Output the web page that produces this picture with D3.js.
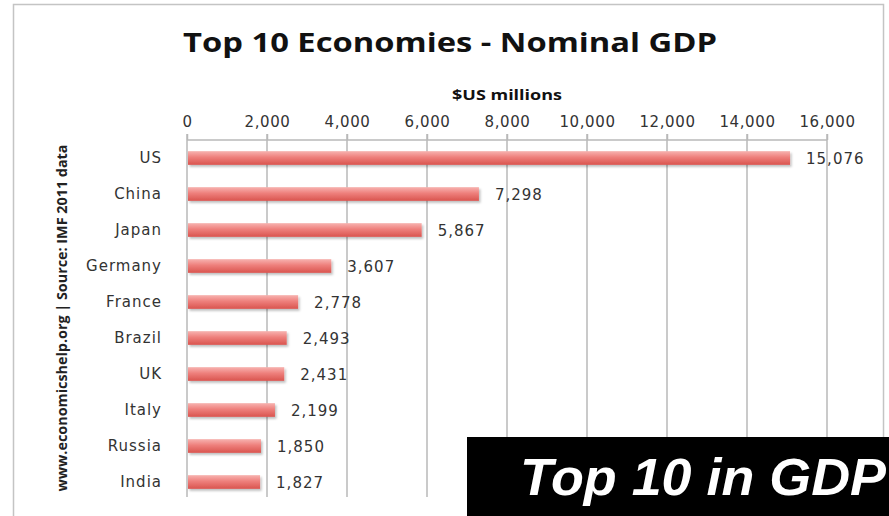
<!DOCTYPE html>
<html><head><meta charset="utf-8">
<script src="https://cdn.jsdelivr.net/npm/d3@7"></script>
<style>
html,body{margin:0;padding:0;background:#fff;}
svg{display:block;}
</style></head>
<body>
<svg id="chart" width="889" height="516"></svg>
<script>
const countries = ["US","China","Japan","Germany","France","Brazil","UK","Italy","Russia","India"];
const gdpValues = [15076,7298,5867,3607,2778,2493,2431,2199,1850,1827];
const tickValues = [0,2000,4000,6000,8000,10000,12000,14000,16000];
const titleText = "Top 10 Economies - Nominal GDP";
const axisTitle = "$US millions";
const sourceText = "www.economicshelp.org | Source: IMF 2011 data";
const bannerText = "Top 10 in GDP";

const svg = d3.select("#chart");
const fmt = d3.format(",");

const defs = svg.append("defs");
const grad = defs.append("linearGradient").attr("id","barGrad").attr("x1",0).attr("y1",0).attr("x2",0).attr("y2",1);
grad.append("stop").attr("offset","0%").attr("stop-color","#f7b3b0");
grad.append("stop").attr("offset","45%").attr("stop-color","#ee7f7b");
grad.append("stop").attr("offset","100%").attr("stop-color","#d9544f");
const sh = defs.append("filter").attr("id","shadow").attr("x","-5%").attr("y","-30%").attr("width","115%").attr("height","180%");
sh.append("feDropShadow").attr("dx",1.5).attr("dy",2).attr("stdDeviation",1.2).attr("flood-color","#000").attr("flood-opacity",0.25);

// outer border
svg.append("rect").attr("x",13.5).attr("y",4.5).attr("width",870).attr("height",530)
  .attr("fill","none").attr("stroke","#c4c4c4").attr("stroke-width",1.5);

const x = d3.scaleLinear().domain([0,16000]).range([187,827]);
const y = d3.scaleBand().domain(countries).range([140,500]).paddingInner(0.62).paddingOuter(0.31);

// gridlines
svg.append("g").selectAll("line").data(tickValues).join("line")
  .attr("x1",d=>x(d)).attr("x2",d=>x(d)).attr("y1",134).attr("y2",497)
  .attr("stroke","#b8b8b8").attr("stroke-width",1.5);

// top axis
const axis = d3.axisTop(x).tickValues(tickValues).tickFormat(fmt).tickSize(6).tickPadding(5);
const ag = svg.append("g").attr("transform","translate(0,140)").call(axis);
ag.select(".domain").attr("stroke","#b8b8b8").attr("stroke-width",1.5).attr("d","M187,0H827");
ag.selectAll(".tick line").attr("stroke","#b8b8b8").attr("stroke-width",1.5);
ag.selectAll(".tick text").attr("fill","#333").attr("font-family","DejaVu Sans").attr("font-size",15)
  .attr("letter-spacing","0.6px").attr("y",-13);

// bars
svg.append("g").selectAll("rect").data(countries).join("rect")
  .attr("x",x(0)+1).attr("y",d=>y(d))
  .attr("width",(d,i)=>x(gdpValues[i])-x(0)-1).attr("height",y.bandwidth())
  .attr("fill","url(#barGrad)").attr("filter","url(#shadow)");

// category labels
svg.append("g").selectAll("text").data(countries).join("text")
  .attr("x",162).attr("y",d=>y(d)+y.bandwidth()/2).attr("dy","0.35em")
  .attr("text-anchor","end").attr("fill","#333").attr("font-family","DejaVu Sans")
  .attr("font-size",15).attr("letter-spacing","1px").text(d=>d);

// value labels
svg.append("g").selectAll("text").data(countries).join("text")
  .attr("x",(d,i)=>x(gdpValues[i])+16).attr("y",d=>y(d)+y.bandwidth()/2).attr("dy","0.4em")
  .attr("fill","#333").attr("font-family","DejaVu Sans")
  .attr("font-size",15).attr("letter-spacing","1px").text((d,i)=>fmt(gdpValues[i]));

// title
svg.append("text").attr("x",450).attr("y",52).attr("text-anchor","middle")
  .attr("font-family","Open Sans").attr("font-weight","bold").attr("font-size",27)
  .attr("fill","#111").attr("textLength",534).attr("lengthAdjust","spacingAndGlyphs").text(titleText);

// axis title
svg.append("text").attr("x",507).attr("y",100).attr("text-anchor","middle")
  .attr("font-family","Open Sans").attr("font-weight","bold").attr("font-size",15)
  .attr("fill","#111").attr("textLength",110).attr("lengthAdjust","spacingAndGlyphs").text(axisTitle);

// vertical source text
svg.append("text").attr("transform","translate(67,318) rotate(-90)").attr("text-anchor","middle")
  .attr("font-family","Open Sans").attr("font-weight","bold").attr("font-size",14.5)
  .attr("fill","#222").attr("textLength",347).attr("lengthAdjust","spacingAndGlyphs").text(sourceText);

// banner
svg.append("rect").attr("x",467).attr("y",437).attr("width",422).attr("height",79).attr("fill","#000");
svg.append("text").attr("x",520).attr("y",495)
  .attr("font-family","Liberation Sans").attr("font-weight","bold").attr("font-style","italic")
  .attr("font-size",52).attr("fill","#fff").attr("textLength",366).attr("lengthAdjust","spacingAndGlyphs").text(bannerText);
</script>
</body></html>
